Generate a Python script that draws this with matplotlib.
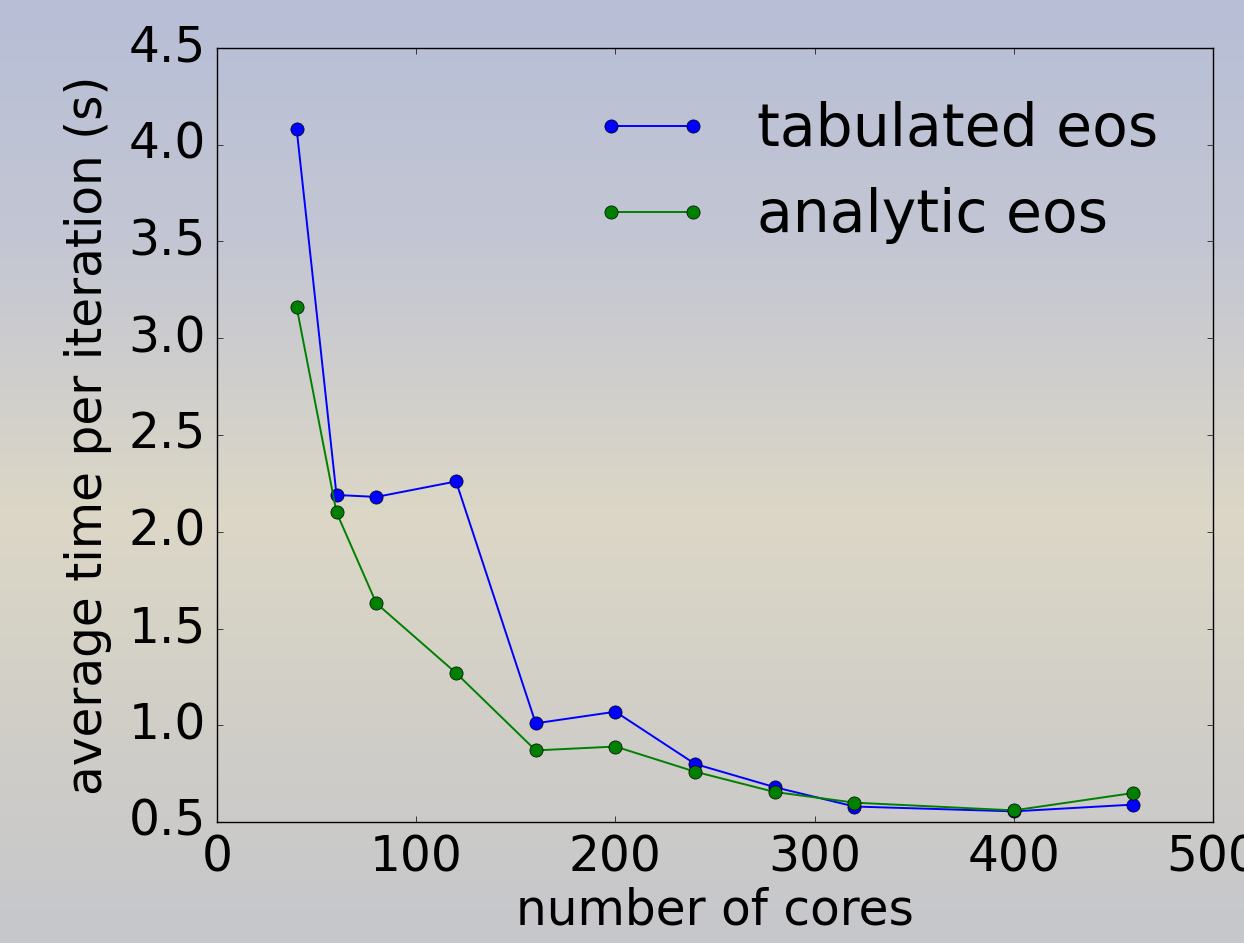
import matplotlib

matplotlib.use("Agg")
import matplotlib.pyplot as plt
import numpy as np
from matplotlib.colors import LinearSegmentedColormap

plt.style.use("classic")

cores = [40, 60, 80, 120, 160, 200, 240, 280, 320, 400, 460]
tabulated = [4.08, 2.19, 2.18, 2.26, 1.01, 1.07, 0.80, 0.68, 0.58, 0.555, 0.59]
analytic = [3.16, 2.10, 1.63, 1.27, 0.87, 0.89, 0.76, 0.655, 0.60, 0.56, 0.65]

fig = plt.figure(figsize=(12.44, 9.43), dpi=100)
fig.patch.set_facecolor("none")

# soft gradient backdrop behind everything
bg = fig.add_axes([0, 0, 1, 1], zorder=-10)
bg.axis("off")
cmap = LinearSegmentedColormap.from_list(
    "bg", [(0.0, "#b7bed6"), (0.25, "#c3c6d3"), (0.55, "#dcd7c6"),
           (0.8, "#cfcdc8"), (1.0, "#c6c7cc")])
grad = np.linspace(0, 1, 256)[:, None] * np.ones((1, 4))
bg.imshow(grad, aspect="auto", cmap=cmap, extent=[0, 1, 1, 0])
bg.set_xlim(0, 1)
bg.set_ylim(1, 0)

ax = fig.add_axes([217 / 1244, 1 - 822 / 943, (1213 - 217) / 1244, (822 - 48) / 943])
ax.patch.set_alpha(0)

ax.plot(cores, tabulated, "o-", color="blue", lw=1.4, ms=9.5, label="tabulated eos")
ax.plot(cores, analytic, "o-", color="green", lw=1.4, ms=9.5, label="analytic eos")

ax.set_xlim(0, 500)
ax.set_ylim(0.5, 4.5)
ax.set_xticks([0, 100, 200, 300, 400, 500])
ax.set_yticks(np.arange(0.5, 4.51, 0.5))
ax.tick_params(labelsize=35, pad=8)
ax.set_xlabel("number of cores", fontsize=35, labelpad=4)
ax.set_ylabel("average time per iteration (s)", fontsize=35, labelpad=12)

ax.legend(loc="upper right", frameon=False, fontsize=42, numpoints=2,
          bbox_to_anchor=(0.998, 0.999))

fig.savefig("out.png", dpi=100, facecolor=fig.get_facecolor())
